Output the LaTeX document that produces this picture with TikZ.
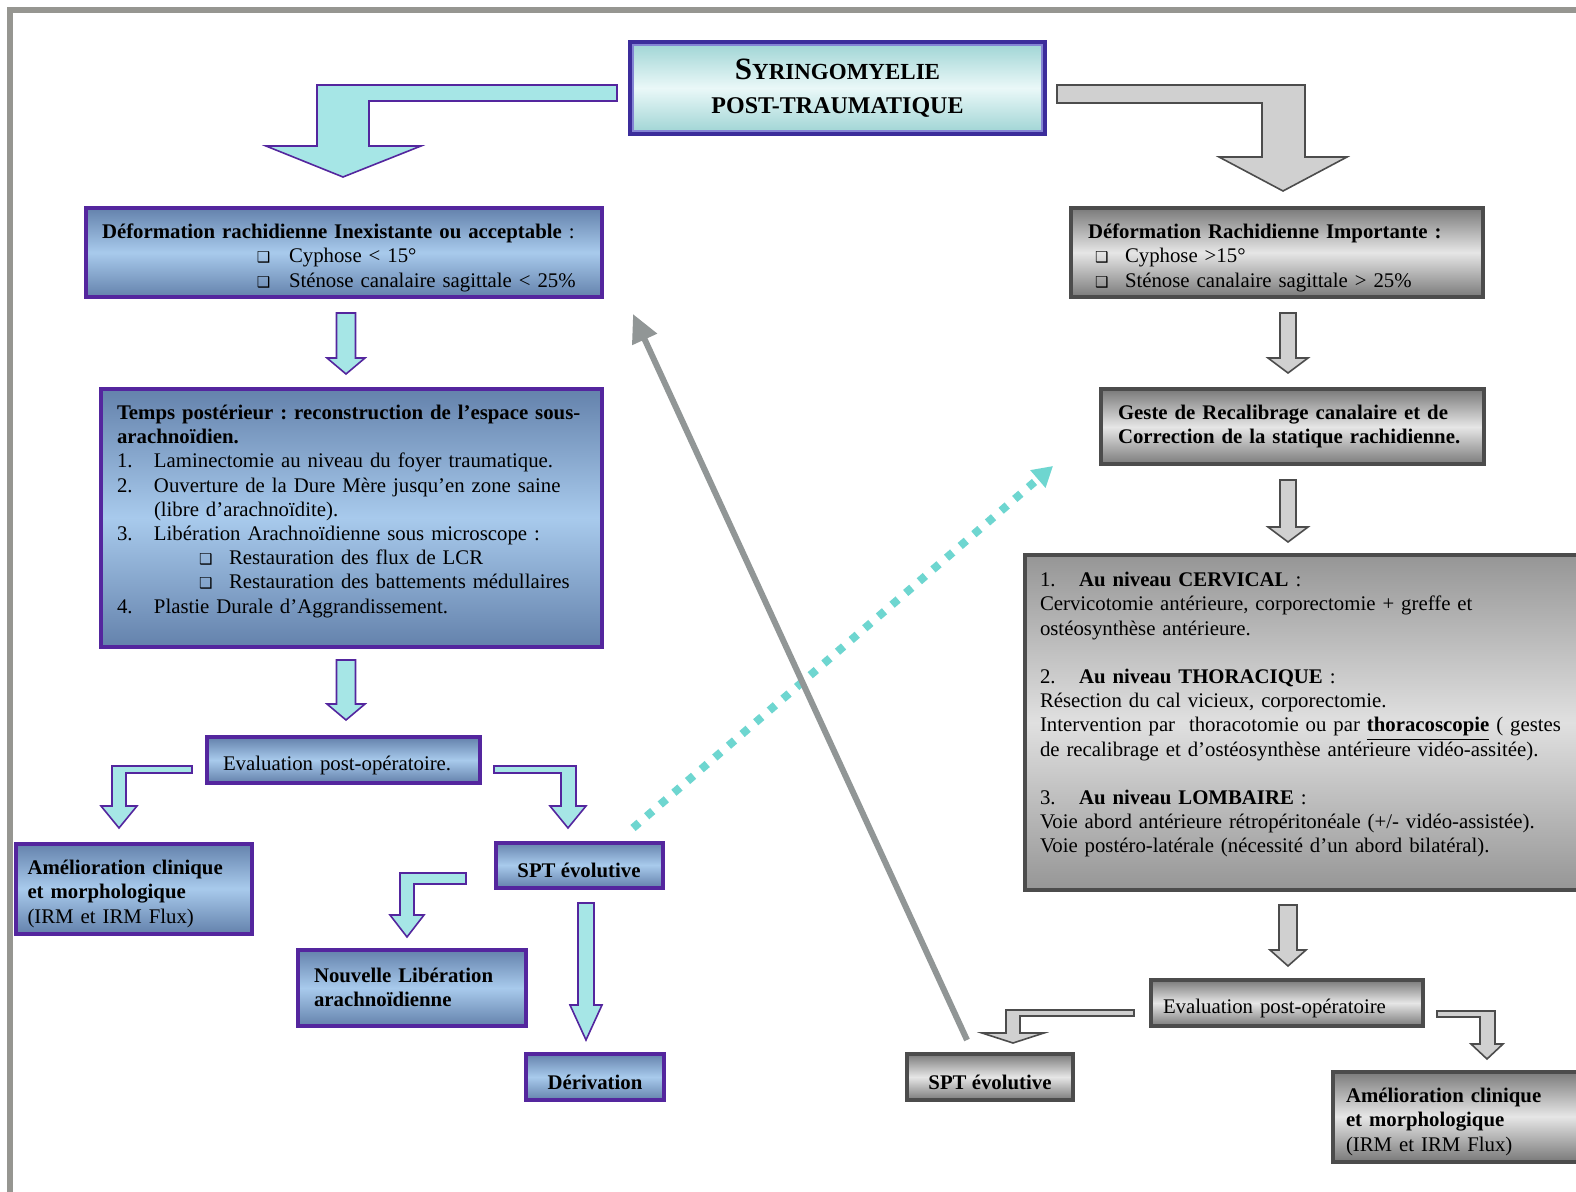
\documentclass[tikz,border=0pt]{standalone}
\usepackage{fontspec}
\setmainfont{Liberation Serif}
\newfontfamily\dejavu{DejaVu Sans}
\usetikzlibrary{arrows.meta}

\definecolor{framegrey}{RGB}{150,150,145}
\definecolor{boxpurple}{RGB}{84,38,158}
\definecolor{bluedark}{RGB}{100,130,172}
\definecolor{bluelight}{RGB}{168,202,236}
\definecolor{titleline}{RGB}{60,45,155}
\definecolor{titleinner}{RGB}{132,132,212}
\definecolor{titledark}{RGB}{158,212,212}
\definecolor{titlelight}{RGB}{234,248,248}
\definecolor{tealfill}{RGB}{166,230,230}
\definecolor{greyline}{RGB}{76,76,76}
\definecolor{greydark}{RGB}{122,122,122}
\definecolor{greylight}{RGB}{230,230,230}
\definecolor{bigtop}{RGB}{150,150,150}
\definecolor{bigmid}{RGB}{224,224,224}
\definecolor{greyfill}{RGB}{208,208,208}
\definecolor{backgrey}{RGB}{145,150,150}
\definecolor{dotteal}{RGB}{110,214,208}

\newcommand{\bodyfont}{\fontsize{10.4}{12.1}\selectfont\frenchspacing}
\newcommand{\sqb}{{\dejavu\fontsize{7.5}{7.5}\selectfont ❑}}
\newcommand{\bottomgap}[1]{\par\vspace{#1}\hrule height 0pt}

\tikzset{
	basebox/.style={rectangle, line width=2pt, inner ysep=1pt, font=\bodyfont, align=left, execute at begin node={\rule{0pt}{12.6pt}}},
	bluebox/.style={basebox, draw=boxpurple, top color=bluedark, bottom color=bluedark, middle color=bluelight},
	greybox/.style={basebox, draw=greyline, top color=greydark, bottom color=greydark, middle color=greylight},
	bigbox/.style={basebox, draw=greyline, top color=bigtop, bottom color=bigtop, middle color=bigmid},
	titlebox/.style={rectangle, draw=titleline, line width=2.5pt, top color=titledark, bottom color=titledark, middle color=titlelight, align=center, font=\bfseries\fontsize{12}{17}\selectfont},
	tealblock/.style={draw=boxpurple, fill=tealfill, line width=0.8pt},
	greyblock/.style={draw=greyline, fill=greyfill, line width=0.8pt},
	backline/.style={draw=backgrey, line width=3pt, -{Triangle[length=14pt, width=13pt]}},
	dotline/.style={draw=dotteal, line width=4pt, dash pattern=on 4pt off 5pt, -{Triangle[length=10pt, width=11pt]}}
}

\begin{document}
\begin{tikzpicture}[x=0.5pt, y=-0.5pt]
	\useasboundingbox (0,0) rectangle (1576,1192);
	\fill[white] (0,0) rectangle (1576,1192);
	\draw[framegrey, line width=3pt] (10,1200) -- (10,10) -- (1590,10);

	% title
	\node[titlebox, minimum width=207pt, minimum height=45.5pt] (title) at (837.5,88) {{\fontsize{15.5}{17}\selectfont S}{\fontsize{11.5}{17}\selectfont YRINGOMYELIE}\\POST-TRAUMATIQUE};
	\draw[titleinner, line width=0.8pt] ([shift={(5,5)}]title.north west) rectangle ([shift={(-5,-5)}]title.south east);

	% big bent arrows
	\draw[tealblock] (617,85) -- (317,85) -- (317,146) -- (266,146) -- (343,177) -- (421,146) -- (369,146) -- (369,101) -- (617,101) -- cycle;
	\draw[greyblock] (1057,85) -- (1305,85) -- (1305,157) -- (1347,157) -- (1283,191) -- (1219,157) -- (1262,157) -- (1262,103) -- (1057,103) -- cycle;

	% left column
	\node[bluebox, inner xsep=8pt, text width=242pt, minimum height=44.5pt] (defL) at (344,252.5) {\textbf{Déformation rachidienne Inexistante ou acceptable} :\\
		\hspace*{77.5pt}\makebox[16pt][l]{\sqb}Cyphose < 15°\\
		\hspace*{77.5pt}\makebox[16pt][l]{\sqb}Sténose canalaire sagittale < 25\%};
	\node[bluebox, inner xsep=8pt, text width=234.5pt, minimum height=129pt] (tempsL) at (351.5,518) {\textbf{Temps postérieur : reconstruction de l’espace sous-}\\
		\textbf{arachnoïdien.}\\
		\makebox[18.5pt][l]{1.}Laminectomie au niveau du foyer traumatique.\\
		\makebox[18.5pt][l]{2.}Ouverture de la Dure Mère jusqu’en zone saine\\
		\hspace*{18.5pt}(libre d’arachnoïdite).\\
		\makebox[18.5pt][l]{3.}Libération Arachnoïdienne sous microscope :\\
		\hspace*{41pt}\makebox[15pt][l]{\sqb}Restauration des flux de LCR\\
		\hspace*{41pt}\makebox[15pt][l]{\sqb}Restauration des battements médullaires\\
		\makebox[18.5pt][l]{4.}Plastie Durale d’Aggrandissement.\bottomgap{12pt}};
	\node[bluebox, inner xsep=8pt, text width=120.5pt, minimum height=22.5pt] (evalL) at (343.5,760) {Evaluation post-opératoire.};
	\node[bluebox, inner xsep=6pt, text width=106pt, minimum height=45pt] (amelL) at (133.5,888.5) {\textbf{Amélioration clinique}\\\textbf{et morphologique}\\(IRM et IRM Flux)};
	\node[bluebox, align=center, minimum width=83.5pt, minimum height=22.5pt] (sptL) at (579,865) {\textbf{SPT évolutive}};
	\node[bluebox, inner xsep=8pt, text width=98pt, minimum height=38pt] (nouvL) at (412,988) {\textbf{Nouvelle Libération}\\\textbf{arachnoïdienne}\bottomgap{6pt}};
	\node[bluebox, align=center, minimum width=69pt, minimum height=23pt] (derivL) at (595,1077) {\textbf{Dérivation}};

	\draw[tealblock] (336.5,313) -- (355.5,313) -- (355.5,358) -- (365,358) -- (346,374) -- (327,358) -- (336.5,358) -- cycle;
	\draw[tealblock] (336.5,660) -- (355.5,660) -- (355.5,704) -- (365,704) -- (346,720) -- (327,704) -- (336.5,704) -- cycle;
	\draw[tealblock] (192,766) -- (112,766) -- (112,806) -- (101,806) -- (119,828) -- (137,806) -- (126,806) -- (126,773) -- (192,773) -- cycle;
	\draw[tealblock] (494,766) -- (576,766) -- (576,806) -- (586,806) -- (568,828) -- (550,806) -- (561,806) -- (561,773) -- (494,773) -- cycle;
	\draw[tealblock] (466,873) -- (400,873) -- (400,915) -- (390,915) -- (407,937) -- (424,915) -- (414,915) -- (414,884) -- (466,884) -- cycle;
	\draw[tealblock] (578,903) -- (594,903) -- (594,1005) -- (602,1005) -- (586,1040) -- (570,1005) -- (578,1005) -- cycle;

	% right column
	\node[greybox, inner xsep=8.5pt, text width=189pt, minimum height=44.5pt] (defR) at (1277,252.5) {\textbf{Déformation Rachidienne Importante :}\\
		\hspace*{3.5pt}\makebox[15pt][l]{\sqb}Cyphose >15°\\
		\hspace*{3.5pt}\makebox[15pt][l]{\sqb}Sténose canalaire sagittale > 25\%};
	\node[greybox, inner xsep=8.5pt, text width=174.5pt, minimum height=37.5pt] (gesteR) at (1292.5,427) {\textbf{Geste de Recalibrage canalaire et de}\\\textbf{Correction de la statique rachidienne.}\bottomgap{6pt}};
	\node[bigbox, inner xsep=7.5pt, text width=271.5pt, minimum height=167pt] (niveauR) at (1311.5,722.5) {\makebox[19.5pt][l]{1.}\textbf{Au niveau CERVICAL} :\\
		Cervicotomie antérieure, corporectomie + greffe et\\
		ostéosynthèse antérieure.\\[12.1pt]
		\makebox[19.5pt][l]{2.}\textbf{Au niveau THORACIQUE} :\\
		Résection du cal vicieux, corporectomie.\\
		Intervention par~ thoracotomie ou par \underline{\textbf{thoracoscopie}} ( gestes\\
		de recalibrage et d’ostéosynthèse antérieure vidéo-assitée).\\[12.1pt]
		\makebox[19.5pt][l]{3.}\textbf{Au niveau LOMBAIRE} :\\
		Voie abord antérieure rétropéritonéale (+/- vidéo-assistée).\\
		Voie postéro-latérale (nécessité d’un abord bilatéral).\bottomgap{13pt}};
	\node[greybox, inner xsep=6pt, text width=124pt, minimum height=23pt] (evalR) at (1287,1003) {Evaluation post-opératoire};
	\node[greybox, align=center, minimum width=83pt, minimum height=23pt] (sptR) at (990,1077) {\textbf{SPT évolutive}};
	\node[greybox, inner xsep=6.5pt, text width=121pt, minimum height=45pt] (amelR) at (1467,1116.5) {\textbf{Amélioration clinique}\\\textbf{et morphologique}\\(IRM et IRM Flux)};

	\draw[greyblock] (1280,313) -- (1296,313) -- (1296,358) -- (1308,358) -- (1288,373) -- (1268,358) -- (1280,358) -- cycle;
	\draw[greyblock] (1280,480) -- (1296,480) -- (1296,527) -- (1308,527) -- (1288,542) -- (1268,527) -- (1280,527) -- cycle;
	\draw[greyblock] (1279,905) -- (1297,905) -- (1297,950) -- (1306,950) -- (1288,966) -- (1270,950) -- (1279,950) -- cycle;
	\draw[greyblock] (1134,1010) -- (1006,1010) -- (1006,1033) -- (982,1033) -- (1013,1043) -- (1044,1033) -- (1020,1033) -- (1020,1016) -- (1134,1016) -- cycle;
	\draw[greyblock] (1437,1011) -- (1495,1011) -- (1495,1044) -- (1503,1044) -- (1487,1059) -- (1471,1044) -- (1480,1044) -- (1480,1017) -- (1437,1017) -- cycle;

	% long connectors
	\coordinate (dotstart) at (633,828);
	\coordinate (dotend) at (1053,466);
	\coordinate (backtail) at (967,1040);
	\coordinate (backtip) at (633,314);
	\draw[dotline] (dotstart) -- (dotend);
	\draw[backline] (backtail) -- (backtip);
\end{tikzpicture}
\end{document}
